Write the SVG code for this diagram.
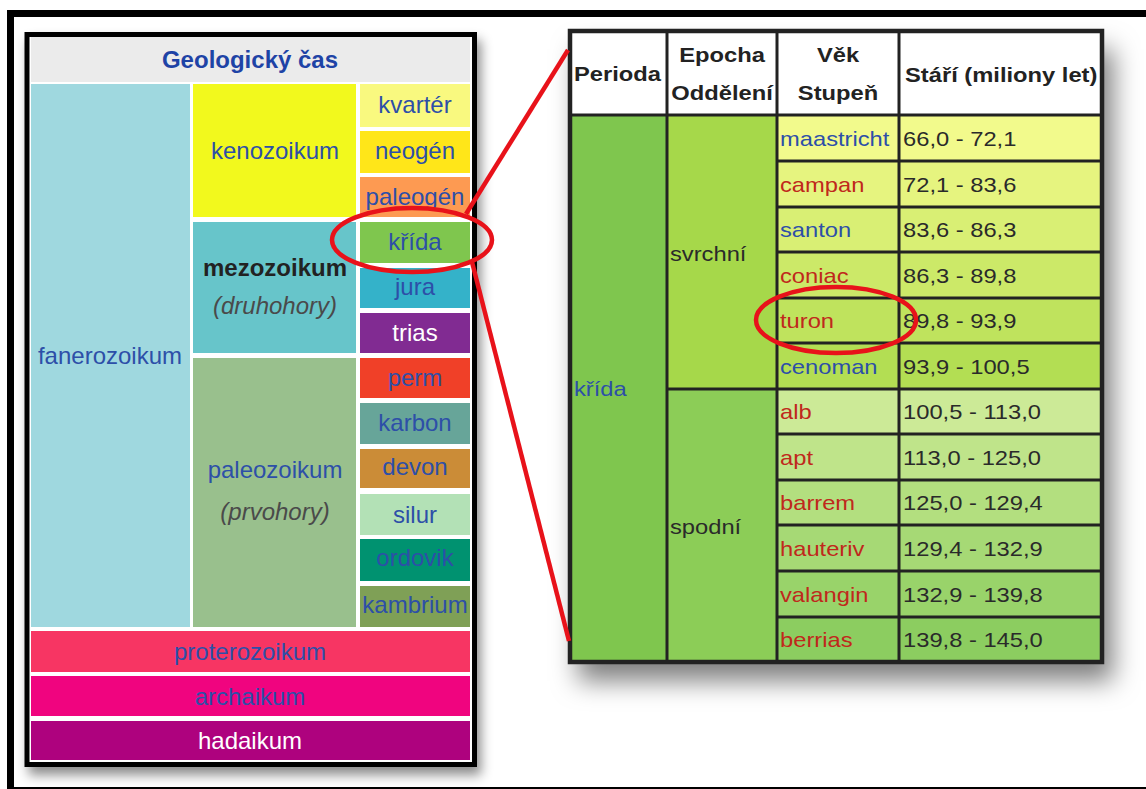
<svg xmlns="http://www.w3.org/2000/svg" width="1146" height="789" viewBox="0 0 1146 789">
<style>
.lp{font-family:"Liberation Sans",Arial,sans-serif;font-size:24px;text-anchor:middle;fill:#2d4fa8}
.wt{fill:#ffffff}
.dk{fill:#222222}
.it{font-style:italic;fill:#4a4a4a}
.bd{font-weight:bold}
.tb{font-family:"Liberation Sans",Arial,sans-serif;font-size:21px;fill:#2a2a2a}
.th{font-weight:bold;fill:#222222}
.mid{text-anchor:middle}
.bl{fill:#2d4fa8}
.rd{fill:#c0281c}
.grid{fill:none;stroke:#222222;stroke-width:3}
.red{fill:none;stroke:#e8121a;stroke-width:4.5}
</style>
<defs>
<filter id="sh1" x="-10%" y="-10%" width="125%" height="125%"><feDropShadow dx="4" dy="8" stdDeviation="6" flood-color="#000" flood-opacity="0.45"/></filter>
<filter id="sh2" x="-15%" y="-15%" width="140%" height="140%"><feDropShadow dx="10" dy="18" stdDeviation="13" flood-color="#000" flood-opacity="0.5"/></filter>
</defs>
<rect width="1146" height="789" fill="#ffffff"/>
<g id="frame" fill="none" stroke="#000">
<path d="M7 13.5H1146M10.5 10V789" stroke-width="7"/>
<path d="M7 788H1146" stroke-width="2"/>
</g>

<g id="left-panel">
<rect x="27" y="34.5" width="447.5" height="730" fill="#ffffff" stroke="#000" stroke-width="5" filter="url(#sh1)"/>
<g id="title"><rect x="31" y="37" width="439" height="45" fill="#ebebeb"/><text class="lp bd" x="250" y="68" style="fill:#1e43a6">Geologický čas</text></g>
<g id="fanerozoikum"><rect x="31" y="84" width="159" height="543" fill="#9fd8df"/><text class="lp" x="110" y="364">fanerozoikum</text></g>
<g id="kenozoikum"><rect x="193" y="84" width="163" height="133" fill="#f2f91d"/><text class="lp" x="275" y="159">kenozoikum</text></g>
<g id="mezozoikum"><rect x="193" y="222" width="163" height="131" fill="#67c5ca"/><text class="lp bd dk" x="275" y="276">mezozoikum</text><text class="lp it" x="275" y="314">(druhohory)</text></g>
<g id="paleozoikum"><rect x="193" y="358" width="163" height="269" fill="#99c08d"/><text class="lp" x="275" y="478">paleozoikum</text><text class="lp it" x="275" y="520">(prvohory)</text></g>
<g id="kvarter"><rect x="360" y="84" width="110" height="43" fill="#f9f97f"/><text class="lp" x="415" y="113">kvartér</text></g>
<g id="neogen"><rect x="360" y="131" width="110" height="42" fill="#ffe619"/><text class="lp" x="415" y="159">neogén</text></g>
<g id="paleogen"><rect x="360" y="177" width="110" height="40" fill="#fd9a52"/><text class="lp" x="415" y="205">paleogén</text></g>
<g id="krida"><rect x="360" y="222" width="110" height="41" fill="#7fc64e"/><text class="lp" x="415" y="250">křída</text></g>
<g id="jura"><rect x="360" y="268" width="110" height="40" fill="#34b2c9"/><text class="lp" x="415" y="295">jura</text></g>
<g id="trias"><rect x="360" y="313" width="110" height="40" fill="#812b92"/><text class="lp wt" x="415" y="341">trias</text></g>
<g id="perm"><rect x="360" y="358" width="110" height="40" fill="#f04028"/><text class="lp" x="415" y="386">perm</text></g>
<g id="karbon"><rect x="360" y="403" width="110" height="41" fill="#67a599"/><text class="lp" x="415" y="431">karbon</text></g>
<g id="devon"><rect x="360" y="449" width="110" height="39" fill="#cb8c37"/><text class="lp" x="415" y="475">devon</text></g>
<g id="silur"><rect x="360" y="494" width="110" height="41" fill="#b3e1b6"/><text class="lp" x="415" y="523">silur</text></g>
<g id="ordovik"><rect x="360" y="539" width="110" height="42" fill="#009270"/><text class="lp" x="415" y="566">ordovik</text></g>
<g id="kambrium"><rect x="360" y="586" width="110" height="41" fill="#7fa056"/><text class="lp" x="415" y="613">kambrium</text></g>
<g id="proterozoikum"><rect x="31" y="631" width="439" height="41" fill="#f73563"/><text class="lp" x="250" y="660">proterozoikum</text></g>
<g id="archaikum"><rect x="31" y="676" width="439" height="40" fill="#f0047f"/><text class="lp" x="250" y="705">archaikum</text></g>
<g id="hadaikum"><rect x="31" y="721" width="439" height="39" fill="#ae027e"/><text class="lp wt" x="250" y="749">hadaikum</text></g>
</g>

<g id="table">
<rect x="568" y="31" width="535" height="632" fill="#ffffff" filter="url(#sh2)"/>
<g id="header">
<rect x="568" y="31" width="535" height="84" fill="#ffffff"/>
<text class="tb th" transform="translate(574,81) scale(1.13,1)">Perioda</text>
<text class="tb th mid" transform="translate(722,62) scale(1.13,1)">Epocha</text>
<text class="tb th mid" transform="translate(722,100) scale(1.13,1)">Oddělení</text>
<text class="tb th mid" transform="translate(838,62) scale(1.13,1)">Věk</text>
<text class="tb th mid" transform="translate(838,100) scale(1.13,1)">Stupeň</text>
<text class="tb th" transform="translate(905,82) scale(1.13,1)">Stáří (miliony let)</text>
</g>
<g id="perioda-krida"><rect x="568" y="115" width="99" height="548" fill="#7fc64e"/><text class="tb bl" transform="translate(574,396) scale(1.13,1)">křída</text></g>
<g id="svrchni"><rect x="667" y="115" width="110" height="274" fill="#a6d84a"/><text class="tb" transform="translate(670,261) scale(1.13,1)">svrchní</text></g>
<g id="spodni"><rect x="667" y="389" width="110" height="274" fill="#8ccd57"/><text class="tb" transform="translate(670,534) scale(1.13,1)">spodní</text></g>
<g id="maastricht"><rect x="777" y="115" width="326" height="46" fill="#f2fa8c"/><text class="tb bl" transform="translate(780,146) scale(1.13,1)">maastricht</text><text class="tb" transform="translate(903,146) scale(1.13,1)">66,0 - 72,1</text></g>
<g id="campan"><rect x="777" y="161" width="326" height="46" fill="#e6f47f"/><text class="tb rd" transform="translate(780,192) scale(1.13,1)">campan</text><text class="tb" transform="translate(903,192) scale(1.13,1)">72,1 - 83,6</text></g>
<g id="santon"><rect x="777" y="207" width="326" height="45" fill="#d9ef74"/><text class="tb bl" transform="translate(780,237) scale(1.13,1)">santon</text><text class="tb" transform="translate(903,237) scale(1.13,1)">83,6 - 86,3</text></g>
<g id="coniac"><rect x="777" y="252" width="326" height="46" fill="#cce968"/><text class="tb rd" transform="translate(780,283) scale(1.13,1)">coniac</text><text class="tb" transform="translate(903,283) scale(1.13,1)">86,3 - 89,8</text></g>
<g id="turon"><rect x="777" y="298" width="326" height="45" fill="#bfe35d"/><text class="tb rd" transform="translate(780,328) scale(1.13,1)">turon</text><text class="tb" transform="translate(903,328) scale(1.13,1)">89,8 - 93,9</text></g>
<g id="cenoman"><rect x="777" y="343" width="326" height="46" fill="#b3de53"/><text class="tb bl" transform="translate(780,374) scale(1.13,1)">cenoman</text><text class="tb" transform="translate(903,374) scale(1.13,1)">93,9 - 100,5</text></g>
<g id="alb"><rect x="777" y="389" width="326" height="45" fill="#ccea97"/><text class="tb rd" transform="translate(780,419) scale(1.13,1)">alb</text><text class="tb" transform="translate(903,419) scale(1.13,1)">100,5 - 113,0</text></g>
<g id="apt"><rect x="777" y="434" width="326" height="46" fill="#bfe48a"/><text class="tb rd" transform="translate(780,465) scale(1.13,1)">apt</text><text class="tb" transform="translate(903,465) scale(1.13,1)">113,0 - 125,0</text></g>
<g id="barrem"><rect x="777" y="480" width="326" height="45" fill="#b3df7f"/><text class="tb rd" transform="translate(780,510) scale(1.13,1)">barrem</text><text class="tb" transform="translate(903,510) scale(1.13,1)">125,0 - 129,4</text></g>
<g id="hauteriv"><rect x="777" y="525" width="326" height="46" fill="#a6d975"/><text class="tb rd" transform="translate(780,556) scale(1.13,1)">hauteriv</text><text class="tb" transform="translate(903,556) scale(1.13,1)">129,4 - 132,9</text></g>
<g id="valangin"><rect x="777" y="571" width="326" height="46" fill="#99d36a"/><text class="tb rd" transform="translate(780,602) scale(1.13,1)">valangin</text><text class="tb" transform="translate(903,602) scale(1.13,1)">132,9 - 139,8</text></g>
<g id="berrias"><rect x="777" y="617" width="326" height="46" fill="#8ccd60"/><text class="tb rd" transform="translate(780,647) scale(1.13,1)">berrias</text><text class="tb" transform="translate(903,647) scale(1.13,1)">139,8 - 145,0</text></g>
<g id="grid-lines">
<path class="grid" d="M568 115H1103M667 389H777M777 161H1103M777 207H1103M777 252H1103M777 298H1103M777 343H1103M777 389H1103M777 434H1103M777 480H1103M777 525H1103M777 571H1103M777 617H1103M667 31V663M777 31V663M899 31V663"/>
<rect x="570" y="31" width="532" height="631" fill="none" stroke="#222222" stroke-width="4.5"/>
</g>
</g>

<g id="connectors">
<line class="red" x1="466" y1="214" x2="568" y2="50"/>
<line class="red" x1="472" y1="262" x2="569" y2="641"/>
<ellipse class="red" cx="412" cy="240" rx="80" ry="32"/>
<ellipse class="red" cx="836" cy="320" rx="80" ry="33"/>
</g>
</svg>
